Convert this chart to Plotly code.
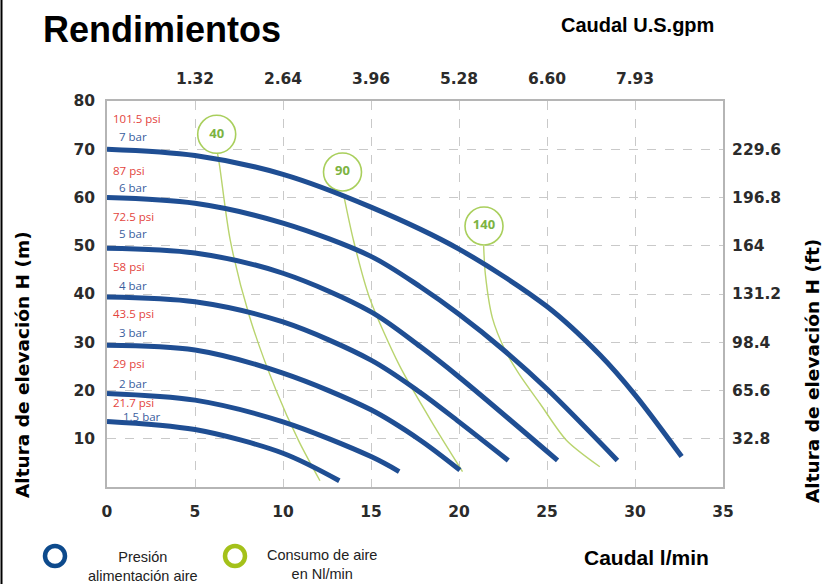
import plotly.graph_objects as go

# ---------------- data ----------------
flow_ticks = [0, 5, 10, 15, 20, 25, 30, 35]
gpm_tickvals = [5, 10, 15, 20, 25, 30]
gpm_ticktext = ["1.32", "2.64", "3.96", "5.28", "6.60", "7.93"]
head_ticks = [10, 20, 30, 40, 50, 60, 70, 80]
ft_tickvals = [10, 20, 30, 40, 50, 60, 70]
ft_ticktext = ["32.8", "65.6", "98.4", "131.2", "164", "196.8", "229.6"]

# pressure curves (flow l/min, head m)
bar7_x = [0, 5, 10, 15, 20, 25, 28, 30, 32.65]
bar7_h = [70, 68.7, 64.8, 58, 49.3, 37.4, 27.4, 19.1, 6.3]
bar6_x = [0, 5, 10, 15, 17.8, 20, 22.5, 25, 29.0]
bar6_h = [60, 58.8, 54.7, 47.8, 41.5, 35.8, 28.5, 20.3, 5.5]
bar5_x = [0, 5, 10, 15, 17.8, 20, 25.6]
bar5_h = [49.5, 48.5, 44.3, 36.3, 29.1, 22.8, 5.5]
bar4_x = [0, 5, 10, 15, 17.8, 20, 22.8]
bar4_h = [39.4, 38.4, 34.2, 26.3, 19.6, 13.5, 5.5]
bar3_x = [0, 5, 10, 15, 17.8, 20.05]
bar3_h = [29.4, 28.4, 23.6, 16.0, 9.7, 3.5]
bar2_x = [0, 5, 10, 15, 16.6]
bar2_h = [19.4, 18.0, 13.5, 6.3, 3.2]
bar15_x = [0, 5, 10, 13.2]
bar15_h = [13.6, 11.9, 7.0, 1.3]

# air consumption curves
air40_x = [6.24, 6.4, 7.0, 8.1, 9.6, 10.9, 12.1]
air40_h = [70, 66.5, 51.2, 35.3, 20.1, 9.5, 1.3]
air90_x = [13.45, 14.0, 14.9, 16.6, 18.5, 20.2]
air90_h = [60.5, 51.2, 39.4, 25.3, 13.2, 3.2]
air140_x = [21.4, 21.5, 21.9, 22.6, 23.4, 24.6, 26.1, 28.0]
air140_h = [50, 44, 35, 28.5, 23.5, 17.3, 9.7, 4.2]

air_labels = ["40", "90", "140"]
psi_labels = ["101.5 psi", "87 psi", "72.5 psi", "58 psi", "43.5 psi", "29 psi", "21.7 psi"]
bar_labels = ["7 bar", "6 bar", "5 bar", "4 bar", "3 bar", "2 bar", "1.5 bar"]

# ---------------- layout geometry ----------------
W, H = 830, 584
L, R, T, B = 107, 107, 101, 97
PW, PH = W - L - R, H - T - B


def px_x(px):
    return (px - L) / PW


def px_y(py):
    return (H - B - py) / PH


def dx(px):
    return (px - L) / PW * 35


def dy(py):
    return (H - B - py) / PH * 80


BLUE = "#1f4e93"
GREEN_LINE = "#b9d46e"
GREEN_BUB = "#a9cf5c"
GREEN_TXT = "#7cb342"
RED_TXT = "#e3443d"
BLUE_TXT = "#3a5e9e"
TICK_CLR = "#2b2b2b"
GRID = "#c9c9c9"

fig = go.Figure()

# green air-consumption lines
for xs, hs in [(air40_x, air40_h), (air90_x, air90_h), (air140_x, air140_h)]:
    fig.add_trace(go.Scatter(x=xs, y=hs, mode="lines",
                             line=dict(color=GREEN_LINE, width=1.4, shape="spline", smoothing=0.8),
                             hoverinfo="skip", showlegend=False))

# bubbles
bub_px = [(216.7, 134.3), (342.5, 172.0), (484.0, 226.0)]
fig.add_trace(go.Scatter(x=[dx(p[0]) for p in bub_px], y=[dy(p[1]) for p in bub_px],
                         mode="markers+text", text=air_labels, textposition="middle center",
                         textfont=dict(color=GREEN_TXT, size=13, family="Open Sans", weight="bold"),
                         marker=dict(size=38, color="white", line=dict(color=GREEN_BUB, width=1.6)),
                         hoverinfo="skip", showlegend=False))

# blue pressure curves
for xs, hs in [(bar7_x, bar7_h), (bar6_x, bar6_h), (bar5_x, bar5_h), (bar4_x, bar4_h),
               (bar3_x, bar3_h), (bar2_x, bar2_h), (bar15_x, bar15_h)]:
    fig.add_trace(go.Scatter(x=xs, y=hs, mode="lines",
                             line=dict(color=BLUE, width=5, shape="spline", smoothing=0.9),
                             hoverinfo="skip", showlegend=False))

# dummy trace for secondary axes
fig.add_trace(go.Scatter(x=[0], y=[0], xaxis="x2", yaxis="y2", mode="markers",
                         marker=dict(opacity=0), hoverinfo="skip", showlegend=False))

annotations = []
psi_py = [118, 170, 216, 266, 313, 363, 402]
bar_py = [136, 187, 233, 285, 332, 383, 416]
bar_px = [117, 117, 117, 117, 117, 117, 121]
for lab, py in zip(psi_labels, psi_py):
    annotations.append(dict(x=px_x(111), y=px_y(py), xref="paper", yref="paper", text=lab,
                            showarrow=False, xanchor="left", yanchor="middle",
                            font=dict(color=RED_TXT, size=11.5, family="Open Sans")))
for lab, py, pxx in zip(bar_labels, bar_py, bar_px):
    annotations.append(dict(x=px_x(pxx), y=px_y(py), xref="paper", yref="paper", text=lab,
                            showarrow=False, xanchor="left", yanchor="middle",
                            font=dict(color=BLUE_TXT, size=11.5, family="Open Sans")))

# titles
annotations.append(dict(x=px_x(41), y=px_y(29), xref="paper", yref="paper", text="Rendimientos",
                        showarrow=False, xanchor="left", yanchor="middle",
                        font=dict(color="black", size=36, family="Liberation Sans", weight="bold")))
annotations.append(dict(x=px_x(716), y=px_y(25), xref="paper", yref="paper", text="Caudal U.S.gpm",
                        showarrow=False, xanchor="right", yanchor="middle",
                        font=dict(color="black", size=20, family="Liberation Sans", weight="bold")))
annotations.append(dict(x=px_x(711), y=px_y(557), xref="paper", yref="paper", text="Caudal l/min",
                        showarrow=False, xanchor="right", yanchor="middle",
                        font=dict(color="black", size=21, family="Liberation Sans", weight="bold")))
annotations.append(dict(x=px_x(22), y=px_y(365), xref="paper", yref="paper",
                        text="Altura de elevación H (m)", textangle=-90,
                        showarrow=False, xanchor="center", yanchor="middle",
                        font=dict(color="black", size=18.5, family="DejaVu Sans", weight="bold")))
annotations.append(dict(x=px_x(812), y=px_y(371), xref="paper", yref="paper",
                        text="Altura de elevación H (ft)", textangle=-90,
                        showarrow=False, xanchor="center", yanchor="middle",
                        font=dict(color="black", size=18.5, family="DejaVu Sans", weight="bold")))
# legend texts
annotations.append(dict(x=px_x(143), y=px_y(566), xref="paper", yref="paper",
                        text="Presión<br>alimentación aire",
                        showarrow=False, xanchor="center", yanchor="middle", align="center",
                        font=dict(color="#222", size=14.5, family="Liberation Sans Narrow, Liberation Sans")))
annotations.append(dict(x=px_x(322), y=px_y(564), xref="paper", yref="paper",
                        text="Consumo de aire<br>en Nl/min",
                        showarrow=False, xanchor="center", yanchor="middle", align="center",
                        font=dict(color="#222", size=14.5, family="Liberation Sans Narrow, Liberation Sans")))

shapes = [
    # legend rings
    dict(type="circle", xref="paper", yref="paper",
         x0=px_x(45), x1=px_x(65), y0=px_y(566), y1=px_y(546),
         line=dict(color="#0d4a8c", width=4.5), fillcolor="white"),
    dict(type="circle", xref="paper", yref="paper",
         x0=px_x(225), x1=px_x(245), y0=px_y(566), y1=px_y(546),
         line=dict(color="#a4c11a", width=4.5), fillcolor="white"),
    # left frame line
    dict(type="line", xref="paper", yref="paper",
         x0=px_x(1.5), x1=px_x(1.5), y0=px_y(0), y1=px_y(584),
         line=dict(color="black", width=2)),
]

tickfont = dict(color=TICK_CLR, size=15.5, family="DejaVu Sans", weight="bold")

fig.update_layout(
    width=W, height=H,
    margin=dict(l=L, r=R, t=T, b=B, pad=0),
    paper_bgcolor="white", plot_bgcolor="white",
    showlegend=False,
    xaxis=dict(range=[0, 35], tickvals=flow_ticks, tickfont=tickfont,
               ticks="outside", ticklen=10, tickcolor="rgba(0,0,0,0)",
               showgrid=True, gridcolor=GRID, griddash="dash", gridwidth=1,
               zeroline=False, showline=True, linecolor="#b5b5b5", linewidth=1.5, mirror=True),
    yaxis=dict(range=[0, 80], tickvals=head_ticks, tickfont=tickfont,
               ticks="outside", ticklen=7, tickcolor="rgba(0,0,0,0)",
               showgrid=True, gridcolor=GRID, griddash="dash", gridwidth=1,
               zeroline=False, showline=True, linecolor="#b5b5b5", linewidth=1.5, mirror=True),
    xaxis2=dict(range=[0, 35], overlaying="x", side="top", anchor="y",
                tickvals=gpm_tickvals, ticktext=gpm_ticktext, tickfont=tickfont,
                ticks="outside", ticklen=10, tickcolor="rgba(0,0,0,0)",
                showgrid=False, zeroline=False, showline=False),
    yaxis2=dict(range=[0, 80], overlaying="y", side="right", anchor="x",
                tickvals=ft_tickvals, ticktext=ft_ticktext, tickfont=tickfont,
                ticks="outside", ticklen=5, tickcolor="rgba(0,0,0,0)",
                showgrid=False, zeroline=False, showline=False),
    annotations=annotations,
    shapes=shapes,
)

fig.write_html("out.html", config={"displayModeBar": False},
               post_script="document.body.style.margin='0';")
